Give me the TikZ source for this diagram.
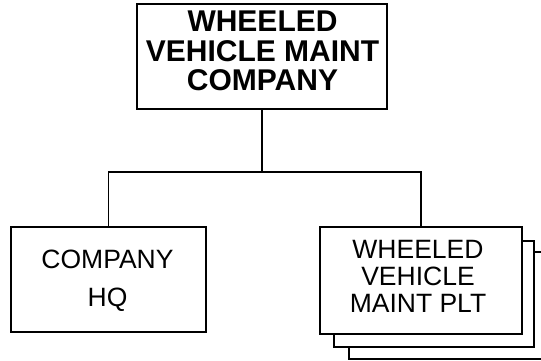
\documentclass[tikz,border=0pt]{standalone}
\usepackage{fontspec}
\setmainfont{Liberation Sans}
\begin{document}
\begin{tikzpicture}[x=1pt,y=-1pt,
  box/.style={draw=black,fill=white,line width=1.7pt,rectangle,inner sep=0pt},
  conn/.style={draw=black,line width=1.7pt},
  toptxt/.style={align=center,inner sep=0pt,font=\fontsize{30}{29.5}\selectfont\bfseries},
  subtxt/.style={align=center,inner sep=0pt,font=\fontsize{26.5}{27}\selectfont}]
\useasboundingbox (0,0) rectangle (541,360);
\clip (0,0) rectangle (541,360);
% top box
\node[box,minimum width=250pt,minimum height=105pt] (top) at (262,56.5) {};
\node[toptxt] (toptext) at (262.5,51) {WHEELED\\VEHICLE MAINT\\COMPANY};
% company HQ
\node[box,minimum width=195pt,minimum height=105pt] (hq) at (108.5,279.5) {};
\node[subtxt,font=\fontsize{26.5}{37.7}\selectfont] (hqtext) at (107.5,281) {COMPANY\\HQ};
% stacked platoon boxes
\node[box,minimum width=200pt,minimum height=107pt] (plt3) at (449,305.5) {};
\node[box,minimum width=200pt,minimum height=106pt] (plt2) at (434,294) {};
\node[box,minimum width=202pt,minimum height=107pt] (plt) at (421,280.5) {};
\node[subtxt] (plttext) at (418,276) {WHEELED\\VEHICLE\\MAINT PLT};
% connectors
\coordinate (bar) at (0,172);
\draw[conn] (top.south) -- (top.south |- bar);
\draw[conn] (hq.north) |- (top.south |- bar) -| (plt.north);
\end{tikzpicture}
\end{document}
